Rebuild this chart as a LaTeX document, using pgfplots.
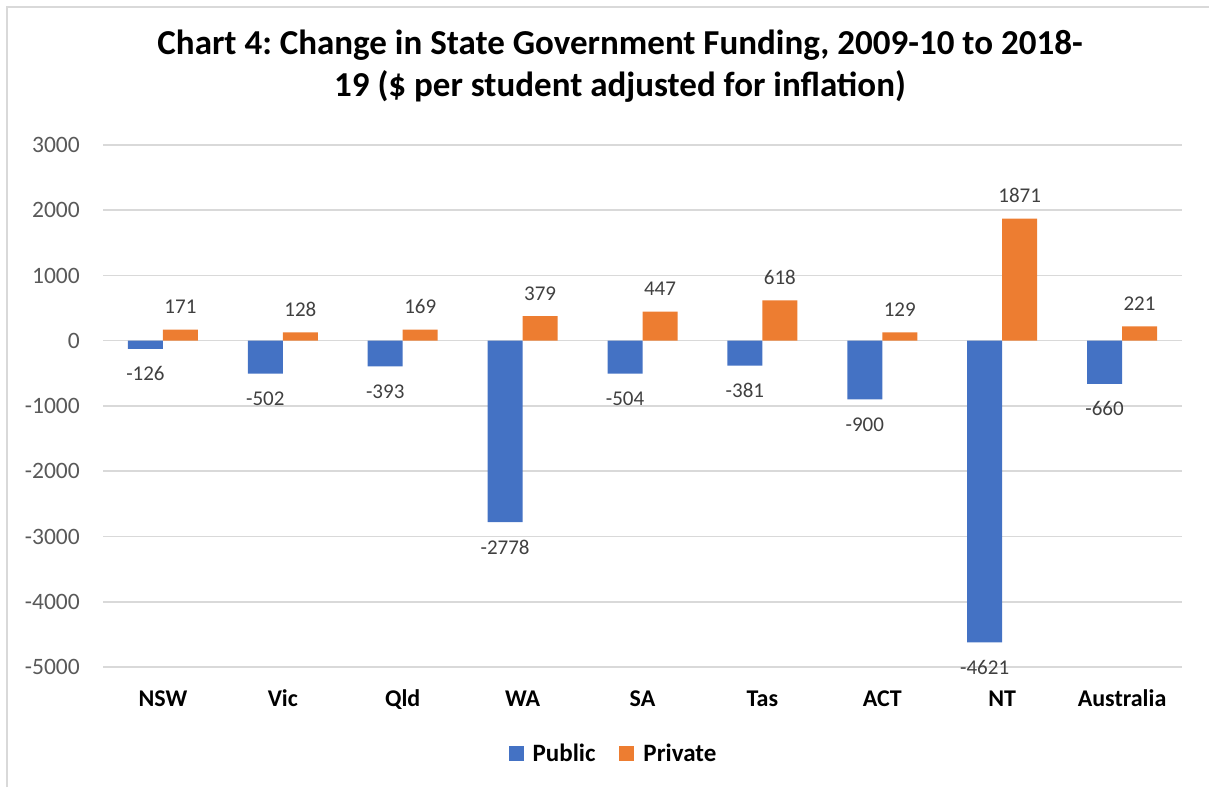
\documentclass[border=0pt]{standalone}
\usepackage{fontspec}
\setmainfont{Carlito}
\usepackage{pgfplots}
\pgfplotsset{compat=1.18}
\definecolor{pub}{HTML}{4472C4}
\definecolor{priv}{HTML}{ED7D31}
\definecolor{gridc}{HTML}{D9D9D9}
\definecolor{tickc}{HTML}{595959}
\definecolor{labc}{HTML}{404040}
\frenchspacing
\begin{document}
\begin{tikzpicture}
\useasboundingbox (0pt,0pt) rectangle (1209pt,787pt);
\draw[gridc, line width=1.5pt] (7pt,0pt) -- (7pt,780pt) -- (1209pt,780pt);
\node[anchor=base, font=\fontsize{35}{42}\selectfont\bfseries, inner sep=0pt] at (620pt,732pt) {Chart 4: Change in State Government Funding, 2009-10 to 2018-};
\node[anchor=base, font=\fontsize{35}{42}\selectfont\bfseries, inner sep=0pt] at (620pt,690pt) {19 (\$ per student adjusted for inflation)};
\begin{axis}[
  at={(103pt,120pt)}, anchor=south west,
  scale only axis, width=1079pt, height=522pt,
  xmin=-0.5, xmax=8.5, ymin=-5000, ymax=3000,
  ytick={-5000,-4000,...,3000},
  xtick={0,...,8},
  xticklabels={NSW,Vic,Qld,WA,SA,Tas,ACT,NT,Australia},
  /pgf/number format/.cd, fixed, precision=0, 1000 sep={}, assume math mode=true,
  /pgfplots/.cd,
  axis line style={draw=none},
  major tick length=0pt,
  ymajorgrids, grid style={gridc, line width=1.5pt},
  yticklabel style={anchor=east, inner sep=0pt, xshift=-23pt, text=tickc, font=\fontsize{23.5}{28}\selectfont},
  xticklabel style={anchor=base, inner sep=0pt, yshift=-39pt, font=\fontsize{24}{28}\selectfont\bfseries},
  ybar, bar width=35pt,
  clip=false,
  legend columns=2,
  legend style={at={(0.4731,-0.1657)}, anchor=center, draw=none, fill=none,
    font=\fontsize{25}{30}\selectfont\bfseries,
    /tikz/every even column/.append style={column sep=22pt}},
  legend image code/.code={\fill[#1] (0pt,-7.5pt) rectangle (15pt,7.5pt); \path (22pt,0pt);},
]
\addplot[fill=pub, draw=none, bar shift=-17.5pt,
  nodes near coords,
  every node near coord/.append style={anchor=base, yshift=-32pt, text=labc, font=\fontsize{21}{25}\selectfont}]
  coordinates {(0,-126) (1,-502) (2,-393) (3,-2778) (4,-504) (5,-381) (6,-900) (7,-4621) (8,-660)};
\addlegendentry{Public}
\addplot[fill=priv, draw=none, bar shift=17.5pt,
  nodes near coords,
  every node near coord/.append style={anchor=base, yshift=16pt, text=labc, font=\fontsize{21}{25}\selectfont}]
  coordinates {(0,171) (1,128) (2,169) (3,379) (4,447) (5,618) (6,129) (7,1871) (8,221)};
\addlegendentry{Private}
\end{axis}
\end{tikzpicture}
\end{document}
